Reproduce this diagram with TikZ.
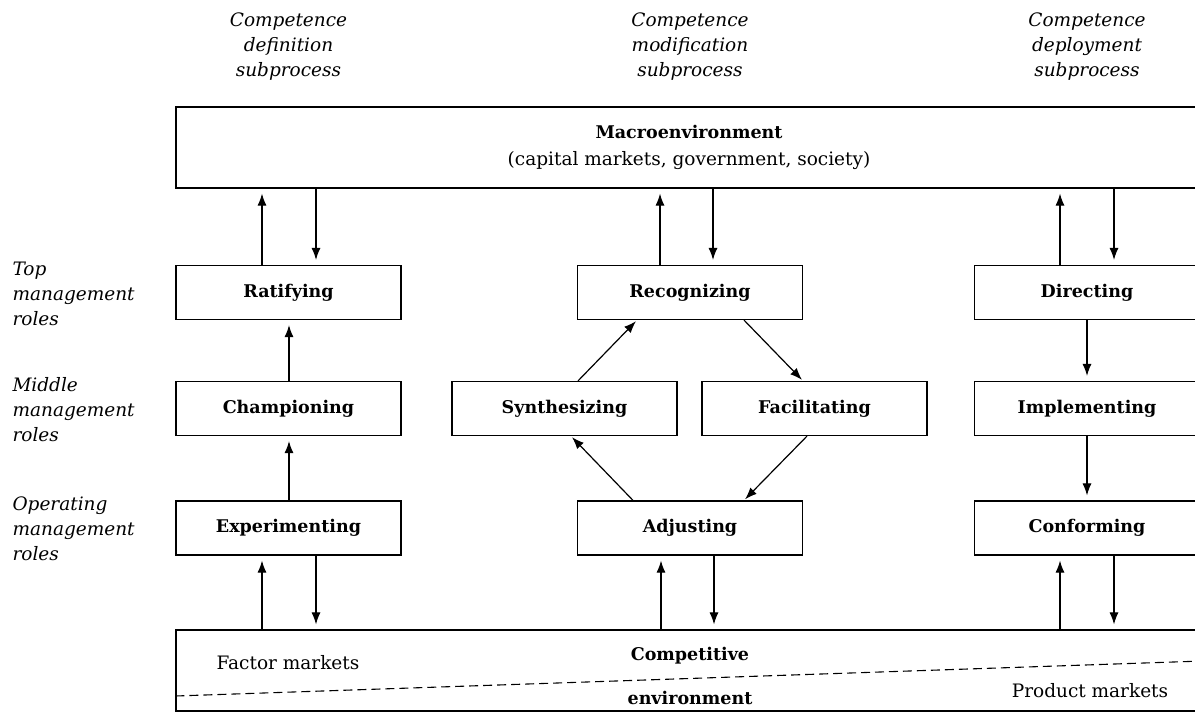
\documentclass[tikz,border=0pt]{standalone}
\usepackage{fontspec}
\setmainfont{DejaVu Serif}
\usetikzlibrary{arrows.meta,calc}
\tikzset{
  role/.style={draw, line width=1.2pt, minimum width=225pt, minimum height=54pt, inner sep=0pt,
    font=\fontsize{17.5}{20}\selectfont\bfseries},
  envbox/.style={draw, line width=1.2pt, inner sep=0pt, minimum width=1026pt, minimum height=81pt},
  arr/.style={-{Latex[length=12pt,width=9pt]}, line width=1.1pt, shorten >=5pt},
  diag/.style={-{Latex[length=12pt,width=9pt]}, line width=1.2pt, shorten >=1.5pt},
  hdr/.style={align=center, font=\fontsize{18.5}{25}\selectfont\itshape},
  side/.style={align=left, anchor=west, font=\fontsize{18.5}{25}\selectfont\itshape},
  plain/.style={font=\fontsize{18.5}{22}\selectfont},
  boldtxt/.style={font=\fontsize{17.5}{22}\selectfont\bfseries},
}
\begin{document}
\begin{tikzpicture}[x=1pt,y=-1pt]
\useasboundingbox (0,0) rectangle (1195,713);
\clip (0,0) rectangle (1195,713);

% headers
\node[hdr] (h1) at (288.5,47) {Competence\\definition\\subprocess};
\node[hdr] (h2) at (690,47) {Competence\\modification\\subprocess};
\node[hdr] (h3) at (1087,47) {Competence\\deployment\\subprocess};

% side labels
\node[side] (s1) at (9,294) {Top\\management\\roles};
\node[side] (s2) at (9,410) {Middle\\management\\roles};
\node[side] (s3) at (9,529) {Operating\\management\\roles};

% macro environment
\node[envbox, align=center, font=\fontsize{18.5}{27}\selectfont] (macro) at (689,147.5)
  {{\fontsize{17.5}{27}\selectfont\bfseries Macroenvironment}\\(capital markets, government, society)};

% competitive environment
\node[envbox] (comp) at (689,670.5) {};
\draw[dash pattern=on 9pt off 5pt, line width=1.1pt] ($(comp.west)+(0,25.5)$) -- ($(comp.east)+(0,-9.5)$);
\node[plain] (factor) at (288,663) {Factor markets};
\node[boldtxt] (competitive) at (690,656) {Competitive};
\node[boldtxt] (environment) at (690,698) {environment};
\node[plain] (product) at (1090,691) {Product markets};

% role boxes
\node[role] (rat) at (288.5,292.5) {Ratifying};
\node[role] (cha) at (288.5,408.5) {Championing};
\node[role] (exp) at (288.5,528) {Experimenting};

\node[role] (rec) at (690,292.5) {Recognizing};
\node[role] (syn) at (564.5,408.5) {Synthesizing};
\node[role] (fac) at (814.5,408.5) {Facilitating};
\node[role] (adj) at (690,528) {Adjusting};

\node[role] (dir) at (1087,292.5) {Directing};
\node[role] (imp) at (1087,408.5) {Implementing};
\node[role] (con) at (1087,528) {Conforming};

% definition column
\path ($(rat.north)+(-26.5,0)$) coordinate (a1) ($(rat.north)+(27.5,0)$) coordinate (b1);
\draw[arr] (a1) -- (a1 |- macro.south);
\draw[arr] (b1 |- macro.south) -- (b1);
\path ($(cha.north)+(0.5,0)$) coordinate (e1) ($(exp.north)+(0.5,0)$) coordinate (f1);
\draw[arr] (e1) -- (e1 |- rat.south);
\draw[arr] (f1) -- (f1 |- cha.south);
\path ($(exp.south)+(-26.5,0)$) coordinate (c1) ($(exp.south)+(27.5,0)$) coordinate (d1);
\draw[arr] (c1 |- comp.north) -- (c1);
\draw[arr] (d1) -- (d1 |- comp.north);

% modification column
\path ($(rec.north)+(-30,0)$) coordinate (a2) ($(rec.north)+(23,0)$) coordinate (b2);
\draw[arr] (a2) -- (a2 |- macro.south);
\draw[arr] (b2 |- macro.south) -- (b2);
\draw[diag] ($(syn.north)+(13.5,0)$) -- ($(rec.south)+(-53,0)$);
\draw[diag] ($(rec.south)+(54,0)$) -- ($(fac.north)+(-11.5,0)$);
\draw[diag] ($(fac.south)+(-7.5,0)$) -- ($(adj.north)+(54,0)$);
\draw[diag] ($(adj.north)+(-57,0)$) -- ($(syn.south)+(6.5,0)$);
\path ($(adj.south)+(-29,0)$) coordinate (c2) ($(adj.south)+(24,0)$) coordinate (d2);
\draw[arr] (c2 |- comp.north) -- (c2);
\draw[arr] (d2) -- (d2 |- comp.north);

% deployment column
\path ($(dir.north)+(-27,0)$) coordinate (a3) ($(dir.north)+(27,0)$) coordinate (b3);
\draw[arr] (a3) -- (a3 |- macro.south);
\draw[arr] (b3 |- macro.south) -- (b3);
\draw[arr] (dir.south) -- (imp.north);
\draw[arr] (imp.south) -- (con.north);
\path ($(con.south)+(-27,0)$) coordinate (c3) ($(con.south)+(27,0)$) coordinate (d3);
\draw[arr] (c3 |- comp.north) -- (c3);
\draw[arr] (d3) -- (d3 |- comp.north);
\end{tikzpicture}
\end{document}
